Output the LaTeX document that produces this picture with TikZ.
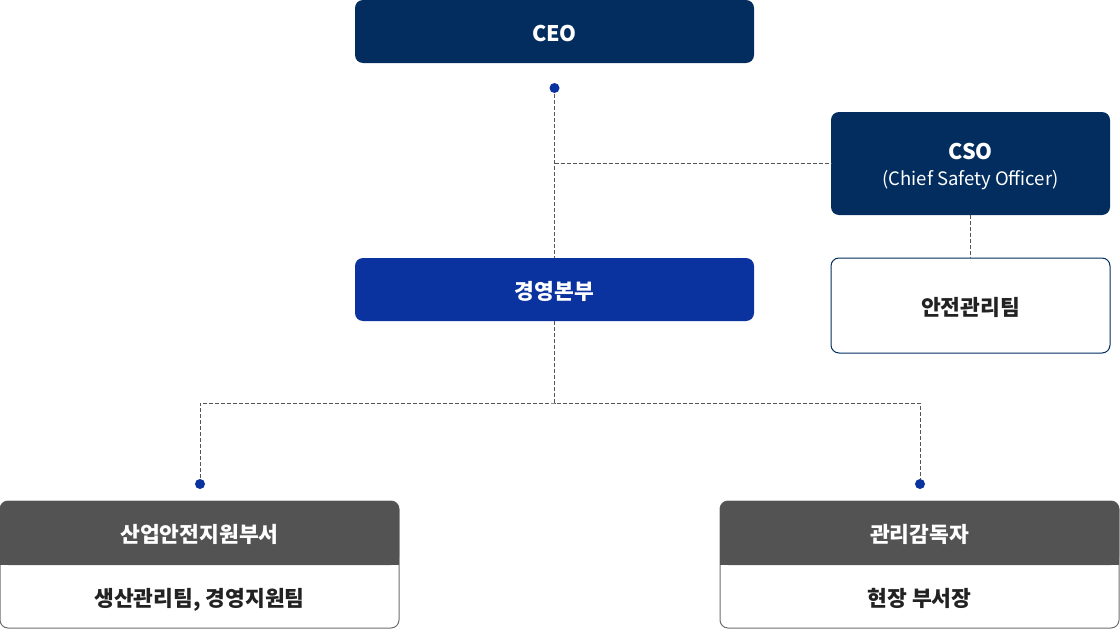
\documentclass[tikz,border=0pt]{standalone}
\usepackage{fontspec}
\setmainfont{Noto Sans CJK KR}
\definecolor{navy}{HTML}{022D5E}
\definecolor{blueone}{HTML}{0A33A0}
\definecolor{hdr}{HTML}{535353}
\definecolor{bordergray}{HTML}{6E6E6E}
\definecolor{linegray}{HTML}{555555}
\definecolor{txt}{HTML}{222222}
\begin{document}
\begin{tikzpicture}[x=1pt,y=-1pt,
  box/.style={rounded corners=8pt, minimum width=399pt, minimum height=63pt, inner sep=0pt,
    text=white, font=\bfseries\fontsize{21.5}{26}\selectfont},
  one/.style={text height=20pt, text depth=1pt},
  conn/.style={draw=linegray, line width=1pt, dash pattern=on 4pt off 2pt},
  dotnode/.style={circle, fill=blueone, inner sep=0pt, minimum size=10pt},
  lbl/.style={inner sep=0pt, text=txt, one, font=\bfseries\fontsize{21.5}{24}\selectfont}
]
\useasboundingbox (0,0) rectangle (1120,629);
% top boxes
\node[box, one, fill=navy] (ceo) at (554.5,31.5) {CEO};
\node[box, fill=navy, minimum width=279pt, minimum height=103pt, align=center] (cso) at (970.5,163.5)
  {\rule{0pt}{22pt}CSO\\{\mdseries\fontsize{18.5}{20}\selectfont (Chief Safety Officer)}};
\node[box, one, fill=white, draw=navy, line width=1pt, text=txt, minimum width=279pt, minimum height=95pt] (safe) at (970.5,305.5) {안전관리팀};
\node[box, one, fill=blueone] (mgmt) at (554.5,289.5) {경영본부};
% bottom left
\node[box, fill=white, draw=bordergray, line width=1pt, minimum height=127pt] (lb) at (199.5,564.5) {};
\fill[hdr] (0,533) rectangle (399,565);
\node[box, one, fill=hdr, minimum height=64pt] (lbh) at (199.5,533) {산업안전지원부서};
\node[lbl] (lbl) at (199.5,597) {생산관리팀, 경영지원팀};
% bottom right
\node[box, fill=white, draw=bordergray, line width=1pt, minimum height=127pt] (rb) at (919.5,564.5) {};
\fill[hdr] (720,533) rectangle (1119,565);
\node[box, one, fill=hdr, minimum height=64pt] (rbh) at (919.5,533) {관리감독자};
\node[lbl] (rbl) at (919.5,597) {현장 부서장};
% connectors
\coordinate (d0) at (554.5,88);
\coordinate (d1) at (200,484);
\coordinate (d2) at (920,484);
\coordinate (j) at (554.5,403);
\draw[conn] (d0) -- (mgmt.north);
\draw[conn] (d0 |- cso.west) -- (cso.west);
\draw[conn] (cso.south) -- (safe.north);
\draw[conn] (mgmt.south) -- (j);
\draw[conn] (d1) |- (j) -| (d2);
\node[dotnode] at (d0) {};
\node[dotnode] at (d1) {};
\node[dotnode] at (d2) {};
\end{tikzpicture}
\end{document}
